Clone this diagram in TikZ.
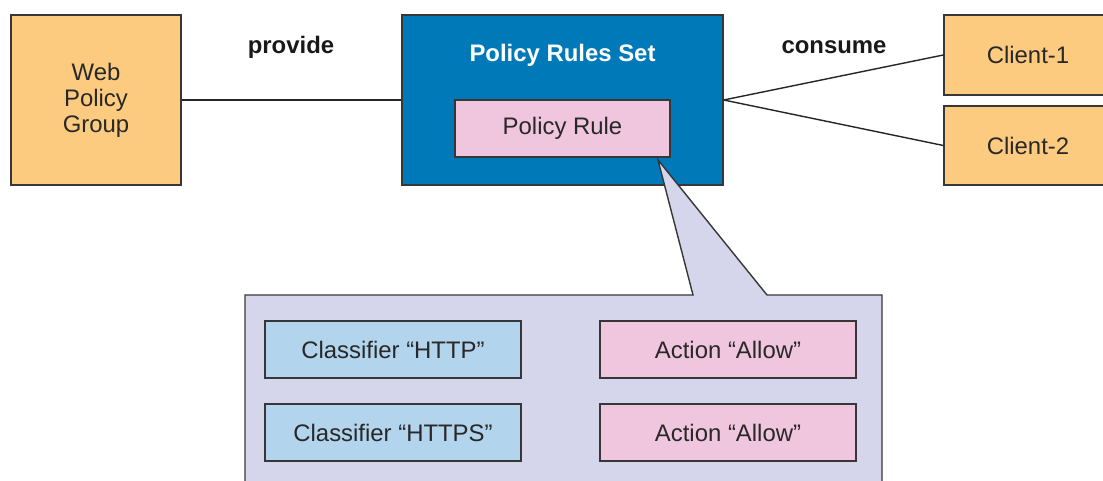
\documentclass[tikz,border=0pt]{standalone}
\usepackage{fontspec}
\setmainfont{Liberation Sans}
\definecolor{grouporange}{RGB}{253,203,128}
\definecolor{setblue}{RGB}{0,121,184}
\definecolor{rulepink}{RGB}{240,198,222}
\definecolor{classblue}{RGB}{178,212,236}
\definecolor{calloutlav}{RGB}{213,214,236}
\definecolor{edgegray}{RGB}{55,55,55}
\definecolor{textgray}{RGB}{40,40,40}
\tikzset{
	box/.style={draw=edgegray, line width=0.8pt, align=center, inner sep=2pt,
		text=textgray, font=\fontsize{13.6}{14.7}\selectfont},
	group/.style={box, fill=grouporange},
	label/.style={font=\fontsize{13.6}{16}\selectfont\bfseries, inner sep=0pt, text=black!90},
}
\begin{document}
\begin{tikzpicture}
		\useasboundingbox (0,0) rectangle (22.06,-9.62);
		\clip (0,0) rectangle (22.06,-9.62);
		
		\node[group, minimum width=3.4cm, minimum height=3.4cm] (web) at (1.92,-2.0) {Web\\Policy\\Group};
		\node[box, fill=setblue, minimum width=6.42cm, minimum height=3.4cm] (set) at (11.25,-2.0) {};
		\node[label, text=white] (settitle) at (11.25,-1.1) {Policy Rules Set};
		\node[group, minimum width=3.36cm, minimum height=1.6cm] (client1) at (20.56,-1.1) {Client-1};
		\node[group, minimum width=3.36cm, minimum height=1.58cm] (client2) at (20.56,-2.91) {Client-2};
		
		% callout with its pointer
		\coordinate (tip) at (13.16,-3.2);
		\draw[draw=edgegray, line width=0.8pt, fill=calloutlav]
			(4.9,-10.2) -- (4.9,-5.9) -- (13.86,-5.9) -- (tip) -- (15.34,-5.9)
			-- (17.64,-5.9) -- (17.64,-10.2);
		
		\node[box, fill=rulepink, minimum width=4.3cm, minimum height=1.14cm] (rule) at (11.25,-2.57) {Policy Rule};
		
		\begin{scope}[every node/.style={box, minimum width=5.12cm, minimum height=1.14cm}]
		\node[fill=classblue] (http) at (7.86,-6.99) {Classifier “HTTP”};
		\node[fill=classblue] (https) at (7.86,-8.65) {Classifier “HTTPS”};
		\node[fill=rulepink] (allow1) at (14.56,-6.99) {Action “Allow”};
		\node[fill=rulepink] (allow2) at (14.56,-8.65) {Action “Allow”};
		\end{scope}
		
		\node[label] (provide) at (5.82,-0.94) {provide};
		\node[label] (consume) at (16.68,-0.94) {consume};
		
		\path[draw=black!85, line width=0.8pt] (web.east) edge (set.west);
		\path[draw=black!85, line width=0.8pt] (set.east) edge (client1.west);
		\path[draw=black!85, line width=0.8pt] (set.east) edge (client2.west);
		\end{tikzpicture}
\end{document}
